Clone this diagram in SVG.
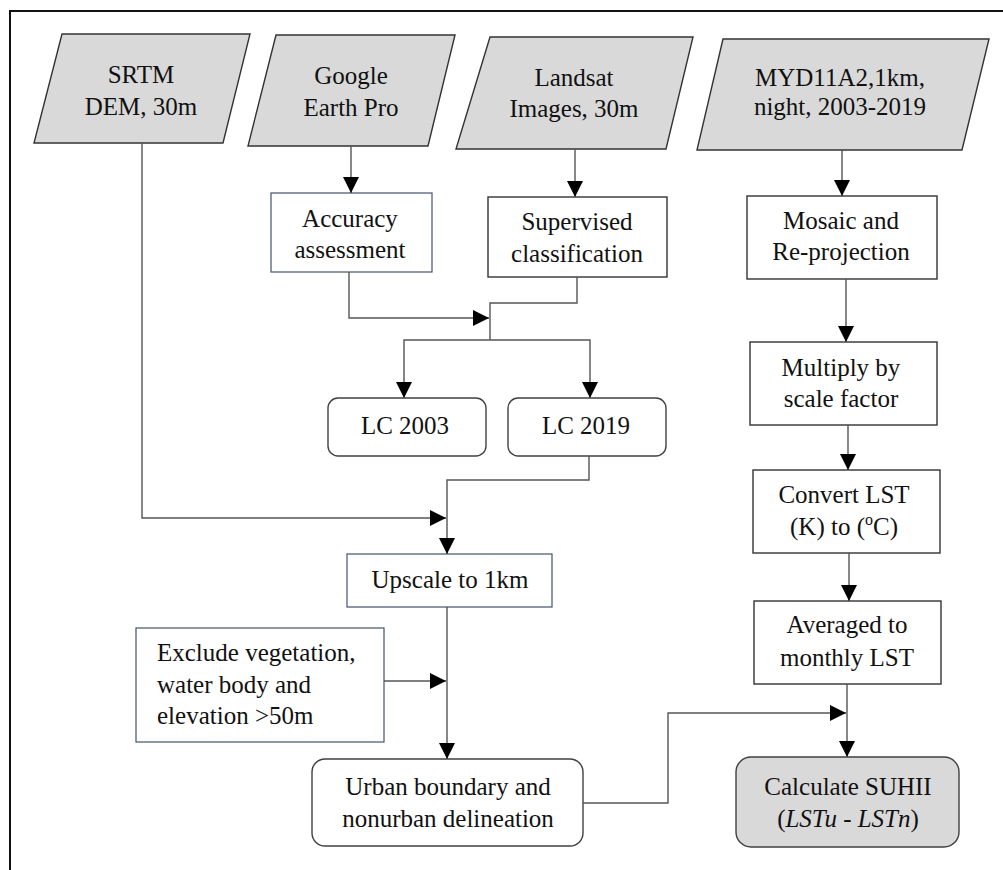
<svg xmlns="http://www.w3.org/2000/svg" width="1003" height="870" viewBox="0 0 1003 870">
<defs>
<style>
text{font-size:25px;fill:#111;text-anchor:middle}
.para{fill:#d9d9d9;stroke:#333;stroke-width:1.4}
.box{fill:#fff;stroke:#333;stroke-width:1.4}
.bbox{fill:#fff;stroke:#44546a;stroke-width:1.2}
.rbox{fill:#fff;stroke:#404040;stroke-width:1.4}
.conn{fill:none;stroke:#555;stroke-width:1.4}
</style>
<marker id="ah" viewBox="0 0 16 16" refX="16" refY="8" markerWidth="16" markerHeight="16" markerUnits="userSpaceOnUse" orient="auto">
<path d="M0,0 L16,8 L0,16 Z" fill="#000"/>
</marker>
</defs>
<rect width="1003" height="870" fill="#fff"/>
<path d="M10,870 V11 H1003" fill="none" stroke="#111" stroke-width="2"/>
<g font-family="'Liberation Serif', 'DejaVu Serif', serif">
<g id="srtm"><polygon class="para" points="62,34 250,34 223,143 34,143"/><text x="141" y="83">SRTM</text><text x="141" y="115">DEM, 30m</text></g>
<g id="google"><polygon class="para" points="276,35 455,35 428,146 248,146"/><text x="351" y="84">Google</text><text x="351" y="116">Earth Pro</text></g>
<g id="landsat"><polygon class="para" points="490,37 693,37 666,149 456,149"/><text x="574" y="86">Landsat</text><text x="574" y="117">Images, 30m</text></g>
<g id="myd"><polygon class="para" points="723,39 989,39 962,150 697,150"/><text x="840" y="86">MYD11A2,1km,</text><text x="840" y="115">night, 2003-2019</text></g>

<g id="accuracy"><rect class="bbox" x="271" y="193" width="161" height="79"/><text x="350" y="227">Accuracy</text><text x="350" y="258">assessment</text></g>
<g id="supervised"><rect class="box" x="488" y="197" width="179" height="80"/><text x="577" y="230">Supervised</text><text x="577" y="262">classification</text></g>
<g id="mosaic"><rect class="box" x="747" y="196" width="190" height="83"/><text x="841" y="229">Mosaic and</text><text x="841" y="260">Re-projection</text></g>

<g id="lc2003"><rect class="rbox" x="328" y="398" width="158" height="58" rx="10"/><text x="405" y="434">LC 2003</text></g>
<g id="lc2019"><rect class="rbox" x="508" y="398" width="158" height="58" rx="10"/><text x="586" y="434">LC 2019</text></g>

<g id="multiply"><rect class="box" x="750" y="342" width="187" height="83"/><text x="841" y="376">Multiply by</text><text x="841" y="407">scale factor</text></g>
<g id="convert"><rect class="box" x="753" y="470" width="187" height="83"/><text x="844" y="503">Convert LST</text><text x="844" y="535">(K) to (<tspan font-size="16" dy="-10">o</tspan><tspan dy="10">C)</tspan></text></g>
<g id="averaged"><rect class="box" x="754" y="601" width="187" height="83"/><text x="847" y="633">Averaged to</text><text x="847" y="666">monthly LST</text></g>

<g id="upscale"><rect class="bbox" x="347" y="554" width="205" height="53"/><text x="450" y="588">Upscale to 1km</text></g>
<g id="exclude"><rect class="bbox" x="136" y="628" width="248" height="114"/><text x="157" y="661" style="text-anchor:start">Exclude vegetation,</text><text x="157" y="693" style="text-anchor:start">water body and</text><text x="157" y="724" style="text-anchor:start">elevation &gt;50m</text></g>
<g id="urban"><rect class="rbox" x="312" y="759" width="271" height="87" rx="13"/><text x="448" y="795">Urban boundary and</text><text x="448" y="827">nonurban delineation</text></g>
<g id="suhii"><rect x="736" y="757" width="223" height="90" rx="15" fill="#d9d9d9" stroke="#404040" stroke-width="1.4"/><text x="848" y="795">Calculate SUHII</text><text x="848" y="827">(<tspan font-style="italic">LSTu</tspan> - <tspan font-style="italic">LSTn</tspan>)</text></g>
</g>
<g id="connectors">
<path class="conn" d="M351,146 V193" marker-end="url(#ah)"/>
<path class="conn" d="M575,149 V197" marker-end="url(#ah)"/>
<path class="conn" d="M842,150 V196" marker-end="url(#ah)"/>
<path class="conn" d="M349,272 V318 H489" marker-end="url(#ah)"/>
<path class="conn" d="M577,277 V303 H490 V340"/>
<path class="conn" d="M490,340 H404 V398" marker-end="url(#ah)"/>
<path class="conn" d="M490,340 H590 V398" marker-end="url(#ah)"/>
<path class="conn" d="M589,456 V480 H447 V554" marker-end="url(#ah)"/>
<path class="conn" d="M142,143 V518 H446" marker-end="url(#ah)"/>
<path class="conn" d="M447,607 V759" marker-end="url(#ah)"/>
<path class="conn" d="M384,681 H446" marker-end="url(#ah)"/>
<path class="conn" d="M846,279 V342" marker-end="url(#ah)"/>
<path class="conn" d="M848,425 V470" marker-end="url(#ah)"/>
<path class="conn" d="M849,553 V601" marker-end="url(#ah)"/>
<path class="conn" d="M847,684 V757" marker-end="url(#ah)"/>
<path class="conn" d="M583,803 H668 V713 H846" marker-end="url(#ah)"/>
</g>
</svg>
